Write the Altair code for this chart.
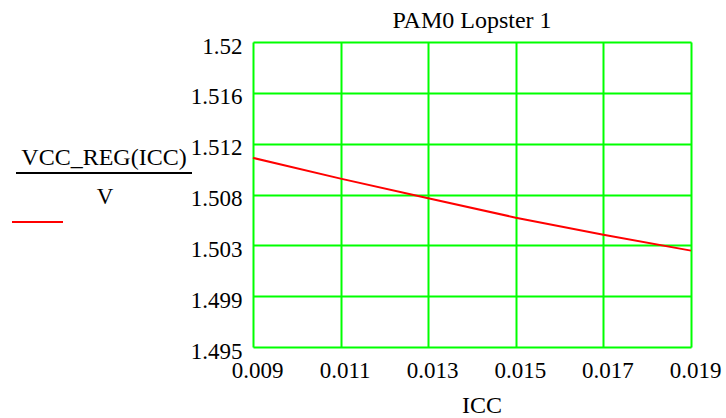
import altair as alt
import pandas as pd

# Regulator output voltage versus load current
icc = [0.009, 0.011, 0.013, 0.015, 0.017, 0.019]
vcc_reg = [1.5105, 1.5088, 1.5072, 1.5056, 1.5042, 1.5029]

# Axis ticks: six equal divisions on each axis
x_ticks = [0.009, 0.011, 0.013, 0.015, 0.017, 0.019]
y_ticks = [1.495, 1.499167, 1.503333, 1.5075, 1.511667, 1.515833, 1.52]

title_text = "PAM0 Lopster 1"
y_label_top = "VCC_REG(ICC)"
y_label_bottom = "V"
x_label = "ICC"

FONT = "Liberation Serif, Times New Roman, serif"
W, H = 438, 305

df = pd.DataFrame({"ICC": icc, "VCC_REG": vcc_reg})

x_enc = alt.X(
    "ICC:Q",
    scale=alt.Scale(domain=[0.009, 0.019], nice=False, zero=False),
    axis=alt.Axis(
        values=x_ticks, format=".3f", title=None,
        grid=True, gridColor="#00ff00", gridWidth=2,
        domain=False, ticks=False, tickSize=0,
        labelFont=FONT, labelFontSize=23, labelColor="black",
        labelPadding=12, labelOffset=4, labelFlush=False,
    ),
)
y_enc = alt.Y(
    "VCC_REG:Q",
    scale=alt.Scale(domain=[1.495, 1.52], nice=False, zero=False),
    axis=alt.Axis(
        values=y_ticks, labelExpr="format(datum.value + 0.000001, '.3~f')",
        title=None,
        grid=True, gridColor="#00ff00", gridWidth=2,
        domain=False, ticks=False, tickSize=0,
        labelFont=FONT, labelFontSize=23, labelColor="black",
        labelPadding=11, labelOffset=4, labelFlush=False,
    ),
)

curve = alt.Chart(df).mark_line(color="#ff0000", strokeWidth=2).encode(x=x_enc, y=y_enc)

# Text blocks around the plot: title, x-axis name, fraction-style y name with line sample
texts = pd.DataFrame({"txt": [title_text, x_label, y_label_top, y_label_bottom]})


def text_layer(label, x, y, size):
    return alt.Chart(texts).transform_filter(alt.datum.txt == label).mark_text(
        font=FONT, fontSize=size, color="black", align="center", baseline="alphabetic"
    ).encode(x=alt.value(x), y=alt.value(y), text="txt:N")


title_mark = text_layer(title_text, 219, -14, 24)
x_name = text_layer(x_label, 229, 371, 24)
label_top = text_layer(y_label_top, -149, 123, 24)
label_bottom = text_layer(y_label_bottom, -148, 162, 23)

fraction_bar = alt.Chart(texts).transform_filter(alt.datum.txt == y_label_top).mark_rule(
    color="black", strokeWidth=2
).encode(x=alt.value(-237), x2=alt.value(-61), y=alt.value(131))
legend_line = alt.Chart(texts).transform_filter(alt.datum.txt == y_label_top).mark_rule(
    color="#ff0000", strokeWidth=2
).encode(x=alt.value(-241), x2=alt.value(-190), y=alt.value(180))

chart = (
    alt.layer(curve, title_mark, x_name, label_top, label_bottom, fraction_bar, legend_line)
    .properties(
        width=W, height=H,
        autosize=alt.AutoSizeParams(type="none"),
        padding={"left": 253, "top": 42, "right": 35, "bottom": 71},
    )
    .configure_view(stroke="black", strokeWidth=2)
    .configure(background="white")
)

chart.save("out.html", embed_options={"renderer": "svg", "actions": False})
